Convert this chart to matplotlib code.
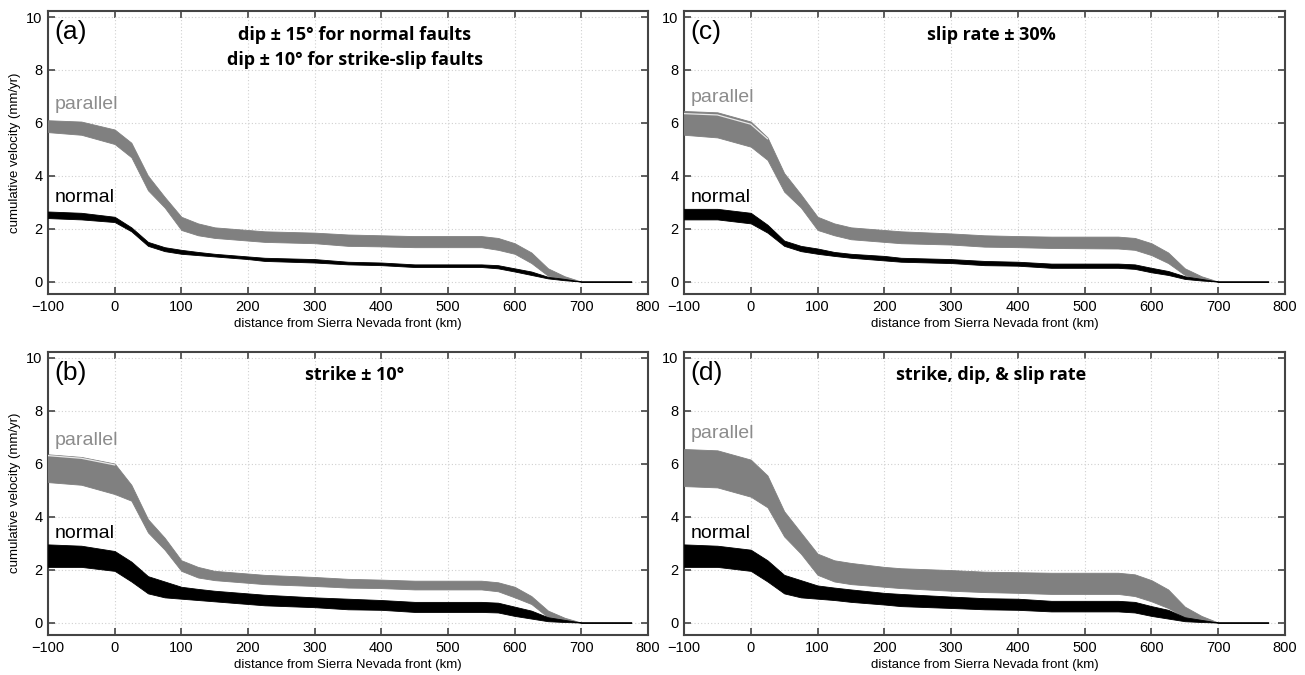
import matplotlib
matplotlib.use("Agg")
import matplotlib.pyplot as plt
import numpy as np

plt.rcParams['font.family'] = ['Liberation Sans', 'DejaVu Sans']

# distance from Sierra Nevada front (km)
x = [-100, -50, 0, 25, 50, 75, 100, 125, 150, 200, 225, 300, 350, 400, 450,
     550, 575, 600, 625, 650, 675, 700, 775]

# ---- panel (a): dip ----
a_par_hi = [6.10, 6.05, 5.75, 5.25, 4.00, 3.20, 2.45, 2.20, 2.05, 1.95, 1.90, 1.85, 1.78, 1.75, 1.72,
            1.72, 1.65, 1.45, 1.10, 0.50, 0.20, 0.0, 0.0]
a_par_lo = [5.65, 5.55, 5.20, 4.70, 3.45, 2.80, 1.95, 1.75, 1.65, 1.55, 1.50, 1.45, 1.35, 1.33, 1.30,
            1.30, 1.20, 1.05, 0.70, 0.22, 0.08, 0.0, 0.0]
a_nor_hi = [2.65, 2.60, 2.45, 2.05, 1.50, 1.30, 1.20, 1.12, 1.05, 0.95, 0.90, 0.85, 0.75, 0.72, 0.65,
            0.65, 0.62, 0.50, 0.38, 0.18, 0.10, 0.0, 0.0]
a_nor_lo = [2.40, 2.35, 2.25, 1.90, 1.35, 1.15, 1.05, 1.00, 0.95, 0.85, 0.78, 0.72, 0.65, 0.62, 0.55,
            0.55, 0.50, 0.38, 0.25, 0.12, 0.05, 0.0, 0.0]

# ---- panel (b): strike ----
b_par_hi = [6.35, 6.25, 6.00, 5.20, 3.90, 3.20, 2.35, 2.10, 1.95, 1.85, 1.80, 1.72, 1.65, 1.62, 1.58,
            1.58, 1.52, 1.35, 1.00, 0.45, 0.18, 0.0, 0.0]
b_par_lo = [5.30, 5.20, 4.85, 4.60, 3.40, 2.75, 1.95, 1.70, 1.60, 1.50, 1.45, 1.38, 1.32, 1.30, 1.25,
            1.25, 1.18, 0.95, 0.70, 0.20, 0.07, 0.0, 0.0]
b_par_mid = [6.30, 6.20, 5.95]
b_nor_hi = [2.95, 2.90, 2.70, 2.30, 1.75, 1.55, 1.35, 1.27, 1.20, 1.10, 1.05, 0.95, 0.90, 0.85, 0.78,
            0.78, 0.75, 0.60, 0.45, 0.20, 0.10, 0.0, 0.0]
b_nor_lo = [2.10, 2.10, 1.95, 1.55, 1.10, 0.95, 0.90, 0.85, 0.80, 0.70, 0.65, 0.58, 0.50, 0.48, 0.40,
            0.40, 0.38, 0.25, 0.15, 0.05, 0.02, 0.0, 0.0]

# ---- panel (c): slip rate ----
c_par_hi = [6.45, 6.40, 6.05, 5.45, 4.10, 3.30, 2.45, 2.20, 2.05, 1.95, 1.90, 1.82, 1.75, 1.72, 1.70,
            1.70, 1.65, 1.45, 1.10, 0.50, 0.20, 0.0, 0.0]
c_par_lo = [5.55, 5.45, 5.10, 4.60, 3.40, 2.80, 1.95, 1.75, 1.60, 1.50, 1.45, 1.40, 1.32, 1.30, 1.27,
            1.25, 1.20, 1.00, 0.70, 0.25, 0.08, 0.0, 0.0]
c_par_mid = [6.35, 6.30, 5.95, 5.40]
c_nor_hi = [2.75, 2.75, 2.60, 2.15, 1.55, 1.35, 1.25, 1.12, 1.05, 0.97, 0.90, 0.85, 0.78, 0.75, 0.68,
            0.68, 0.65, 0.52, 0.40, 0.20, 0.10, 0.0, 0.0]
c_nor_lo = [2.35, 2.35, 2.20, 1.85, 1.35, 1.15, 1.05, 0.97, 0.90, 0.80, 0.75, 0.70, 0.62, 0.60, 0.52,
            0.52, 0.48, 0.35, 0.25, 0.10, 0.04, 0.0, 0.0]

# ---- panel (d): strike, dip & slip rate ----
d_par_hi = [6.55, 6.50, 6.15, 5.55, 4.20, 3.40, 2.60, 2.35, 2.25, 2.10, 2.05, 1.98, 1.92, 1.90, 1.88,
            1.88, 1.82, 1.60, 1.25, 0.60, 0.25, 0.0, 0.0]
d_par_lo = [5.15, 5.10, 4.75, 4.35, 3.25, 2.60, 1.80, 1.55, 1.45, 1.35, 1.30, 1.20, 1.15, 1.12, 1.08,
            1.08, 1.00, 0.80, 0.55, 0.20, 0.07, 0.0, 0.0]
d_nor_hi = [2.95, 2.90, 2.75, 2.35, 1.80, 1.60, 1.40, 1.32, 1.25, 1.12, 1.08, 0.98, 0.92, 0.90, 0.82,
            0.82, 0.78, 0.62, 0.48, 0.20, 0.10, 0.0, 0.0]
d_nor_lo = [2.10, 2.10, 1.95, 1.55, 1.10, 0.95, 0.90, 0.85, 0.78, 0.68, 0.62, 0.55, 0.50, 0.48, 0.42,
            0.42, 0.38, 0.25, 0.15, 0.05, 0.02, 0.0, 0.0]

panel_letters = ['(a)', '(b)', '(c)', '(d)']
panel_titles = ['dip ± 15° for normal faults\ndip ± 10° for strike-slip faults',
                'strike ± 10°', 'slip rate ± 30%', 'strike, dip, & slip rate']
parallel_label_y = [6.7, 6.87, 6.97, 7.13]
normal_label_y = [3.18, 3.36, 3.18, 3.36]

xlabel = 'distance from Sierra Nevada front (km)'
ylabel = 'cumulative velocity (mm/yr)'

fig = plt.figure(figsize=(13.05, 6.75), dpi=100)
W, H = 1305, 675
def rect(l, t, r, b):
    return [l / W, 1 - b / H, (r - l) / W, (b - t) / H]

axes = {
    '(a)': fig.add_axes(rect(48, 11, 648, 294)),
    '(c)': fig.add_axes(rect(684, 11, 1285, 294)),
    '(b)': fig.add_axes(rect(48, 351.5, 648, 635)),
    '(d)': fig.add_axes(rect(684, 351.5, 1285, 635)),
}

data = {
    '(a)': (a_par_hi, a_par_lo, None, a_nor_hi, a_nor_lo),
    '(b)': (b_par_hi, b_par_lo, b_par_mid, b_nor_hi, b_nor_lo),
    '(c)': (c_par_hi, c_par_lo, c_par_mid, c_nor_hi, c_nor_lo),
    '(d)': (d_par_hi, d_par_lo, None, d_nor_hi, d_nor_lo),
}

gray = '#808080'
spine_col = '#444444'
for i, letter in enumerate(panel_letters):
    ax = axes[letter]
    ph, pl, pm, nh, nl = data[letter]
    ax.fill_between(x, pl, ph, color=gray, lw=0.6, edgecolor=gray, zorder=3)
    if pm is not None:
        ax.plot(x[:len(pm)], pm, color='#e8e8e8', lw=0.9, zorder=4)
    ax.fill_between(x, nl, nh, color='black', lw=0.6, edgecolor='black', zorder=5)
    ax.set_xlim(-100, 800)
    ax.set_ylim(-0.47, 10.23)
    ax.set_xticks(np.arange(-100, 801, 100))
    ax.set_yticks(np.arange(0, 11, 2))
    ax.set_xticklabels(['\u2212100'] + [str(v) for v in range(0, 801, 100)])
    ax.grid(True, color='#d0d0d0', ls=(0, (1, 2)), lw=0.8, zorder=0)
    ax.tick_params(direction='in', top=True, right=True, length=5, width=1.2,
                   color=spine_col, labelsize=10.5, pad=4)
    for s in ax.spines.values():
        s.set_color(spine_col)
        s.set_linewidth(1.5)
    ax.set_xlabel(xlabel, fontsize=9.5, labelpad=3)
    if letter in ('(a)', '(b)'):
        ax.set_ylabel(ylabel, fontsize=9.5, labelpad=4)
    ax.text(-90, 9.42, letter, fontsize=19, va='center', ha='left', zorder=6)
    ax.text(360, 9.68, panel_titles[i], fontsize=13, fontweight='bold',
            ha='center', va='top', linespacing=1.5, family=['Open Sans', 'DejaVu Sans'], zorder=6)
    ax.text(-90, parallel_label_y[i], 'parallel', fontsize=14, color='#8c8c8c',
            ha='left', va='center', zorder=6)
    ax.text(-90, normal_label_y[i], 'normal', fontsize=14, color='black',
            ha='left', va='center', zorder=6)

fig.savefig('out.png', dpi=100)
